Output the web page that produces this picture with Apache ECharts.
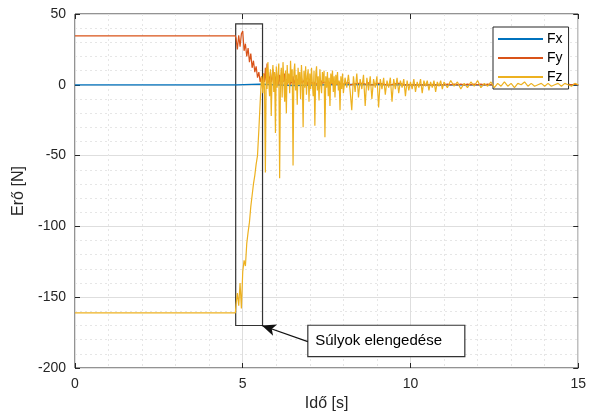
<!DOCTYPE html>
<html>
<head>
<meta charset="utf-8">
<script src="https://cdn.jsdelivr.net/npm/echarts@6/dist/echarts.min.js"></script>
<style>html,body{margin:0;padding:0;background:#fff;}#c{width:589px;height:419px;}</style>
</head>
<body>
<div id="c"></div>
<script>
// ---- data ----
const time = [
  0, 4.78,
  4.80,4.84,4.88,4.92,4.96,5.00,5.04,5.08,5.12,5.16,5.20,5.24,5.28,5.32,5.36,5.40,5.44,5.48,5.52,5.56,5.60,
  5.625,5.650,5.675,5.700,5.725,5.750,5.775,5.800,5.825,5.850,
  5.875,5.900,5.925,5.950,5.975,6.000,6.025,6.050,6.075,6.100,
  6.125,6.150,6.175,6.200,6.225,6.250,6.275,6.300,6.325,6.350,
  6.375,6.400,6.425,6.450,6.475,6.500,6.525,6.550,6.575,6.600,
  6.625,6.650,6.675,6.700,6.725,6.750,6.775,6.800,6.825,6.850,
  6.875,6.900,6.925,6.950,6.975,7.000,7.025,7.050,7.075,7.100,
  7.125,7.150,7.175,7.200,7.225,7.250,7.275,7.300,7.325,7.350,
  7.375,7.400,7.425,7.450,7.475,7.500,7.525,7.550,7.575,7.600,
  7.625,7.650,7.675,7.700,7.725,7.750,7.775,7.800,7.825,7.850,
  7.875,7.900,7.925,7.950,7.975,8.000,
  8.05,8.10,8.15,8.20,8.25,8.30,8.35,8.40,8.45,8.50,
  8.55,8.60,8.65,8.70,8.75,8.80,8.85,8.90,8.95,9.00,
  9.05,9.10,9.15,9.20,9.25,9.30,9.35,9.40,9.45,9.50,
  9.55,9.60,9.65,9.70,9.75,9.80,9.85,9.90,9.95,10.00,
  10.05,10.10,10.15,10.20,10.25,10.30,10.35,10.40,10.45,10.50,
  10.55,10.60,10.65,10.70,10.75,10.80,10.85,10.90,10.95,11.00,
  11.1,11.2,11.3,11.4,11.5,11.6,11.7,11.8,11.9,12.0,
  12.1,12.2,12.3,12.4,12.5,12.6,12.7,12.8,12.9,13.0,
  13.1,13.2,13.3,13.4,13.5,13.6,13.7,13.8,13.9,14.0,
  14.1,14.2,14.3,14.4,14.5,14.6,14.7,14.8,14.9,15.0
];
const fz = [
  -161, -161,
  -155,-147,-156,-140,-158,-132,-124,-128,-112,-104,-97,-86,-78,-70,-64,-56,-50,-32,-12,6,-6,
  8,-4,-62,12,-3,16,2,-8,11,-22,
  6,14,-5,9,-34,13,-2,7,15,-66,
  4,12,-9,16,3,-12,10,-20,14,1,
  8,-6,17,2,11,-57,9,15,-4,7,
  -14,12,0,9,-10,14,3,-30,10,-2,
  13,-7,6,11,-12,8,-3,12,1,-8,
  10,-29,7,13,-4,6,-11,11,0,-6,
  9,2,10,-37,6,-2,9,-8,5,-15,
  8,1,10,-5,6,-9,7,0,9,-4,
  3,-18,6,-3,8,-6,
  5,-2,7,-4,-18,6,-5,8,-9,4,
  -3,7,-15,5,-4,6,-10,4,-2,6,
  -16,4,-3,5,-7,3,-2,5,-12,4,
  -3,5,-6,3,-2,4,-8,3,-4,2,
  -3,4,-5,2,-2,4,-6,3,-1,3,
  -4,2,-2,3,-5,2,-1,3,-3,2,
  -2,3,-1,2,-3,1,-2,2,-1,3,
  -2,1,-1,2,-2,1,-1,2,-1,1,
  -2,1,0,2,-1,1,-1,0,1,-1,
  1,-1,0,1,-1,1,0,-1,1,0
];
const fy = [
  34.5, 34.5,
  33,25,35,27,36,38,24,29,20,26,16,22,12,17,9,13,5,9,2,6,0,
  8,2,12,3,15,1,6,0,9,2,
  4,11,1,6,0,8,3,5,0,7,
  2,6,0,5,2,8,1,4,0,6,
  2,5,0,4,1,6,0,3,2,5,
  0,4,1,3,0,5,1,2,0,4,
  1,3,0,2,1,4,0,2,1,3,
  0,2,1,3,0,2,1,2,0,3,
  1,2,0,2,1,3,0,1,2,0,
  1,2,0,1,2,0,1,2,0,1,
  2,0,1,2,0,1,
  1,0,1.5,0,1,0.5,0,1,0,1,
  0,1,0.5,0,1.5,0,1,0,0.5,1,
  0,1,0,0.5,1,0,1,0,1,0.5,
  0,1,0,1,0.5,0,1,0,0.5,0,
  1,0,0.5,0,1,0,0.5,0,1,0,
  0.5,0,1,0,0.5,0,0.5,0,1,0,
  0.5,0,0.5,0,0.5,0,0.5,0,0.5,0,
  0.5,0,0.5,0,0.5,0,0.5,0,0.5,0,
  0.5,0,0.5,0,0.5,0,0.5,0,0.5,0,
  0.5,0,0.5,0,0.5,0,0.5,0,0.5,0
];
const fxTime = [0, 4.8, 5.5, 6.5, 8, 10, 15];
const fx = [0, 0, 0.5, -0.5, 0.3, 0, 0];
const xTicks = [0, 5, 10, 15];
const yTicks = [-200, -150, -100, -50, 0, 50];
const highlightBox = { x0: 4.79, x1: 5.59, y0: 43, y1: -170 };
const noteBox = { x0: 6.94, x1: 11.62, y0: -169.8, y1: -192, text: 'Súlyok elengedése' };
const noteArrow = { from: [6.94, -181.4], to: [5.57, -170] };

const FONT = '"Liberation Sans", Arial, sans-serif';
const txt = '#262626';

const chart = echarts.init(document.getElementById('c'), null, { renderer: 'canvas' });
const xCommon = {
  type: 'value', min: xTicks[0], max: xTicks[xTicks.length - 1], interval: 5,
  axisLine: { show: false, onZero: false },
  axisTick: { show: true, inside: true, length: 5, lineStyle: { color: txt } },
  minorTick: { show: false, splitNumber: 5 }
};
const yCommon = {
  type: 'value', min: yTicks[0], max: yTicks[yTicks.length - 1], interval: 50,
  axisLine: { show: false, onZero: false },
  axisTick: { show: true, inside: true, length: 5, lineStyle: { color: txt } },
  minorTick: { show: false, splitNumber: 5 }
};
chart.setOption({
  animation: false,
  backgroundColor: '#fff',
  grid: { left: 75, right: 7, top: 14, bottom: 51, show: true, borderColor: '#262626', borderWidth: 1, backgroundColor: 'transparent' },
  legend: {
    orient: 'vertical', left: 493, top: 27,
    data: ['Fx', 'Fy', 'Fz'],
    icon: 'rect', itemWidth: 45, itemHeight: 2, itemGap: 5,
    padding: [5, 6, 5, 5],
    borderColor: '#262626', borderWidth: 1, backgroundColor: '#fff',
    textStyle: { fontFamily: FONT, fontSize: 14, color: '#000', padding: [0, 0, 0, -1] }
  },
  xAxis: [
    Object.assign({}, xCommon, {
      position: 'bottom',
      name: 'Idő [s]', nameLocation: 'middle', nameGap: 25,
      nameTextStyle: { fontFamily: FONT, fontSize: 16, color: txt },
      axisLabel: { fontFamily: FONT, fontSize: 14, color: txt, margin: 9 },
      splitLine: { show: true, lineStyle: { color: '#dedede', width: 1 } },
      minorTick: { show: false, splitNumber: 5 },
      minorSplitLine: { show: true, lineStyle: { color: '#e6e6e6', type: [2, 3], width: 1 } }
    }),
    Object.assign({}, xCommon, { position: 'top', axisLabel: { show: false }, splitLine: { show: false } })
  ],
  yAxis: [
    Object.assign({}, yCommon, {
      position: 'left',
      name: 'Erő [N]', nameLocation: 'middle', nameGap: 46,
      nameTextStyle: { fontFamily: FONT, fontSize: 16, color: txt },
      axisLabel: { fontFamily: FONT, fontSize: 14, color: txt, margin: 9 },
      splitLine: { show: true, lineStyle: { color: '#dedede', width: 1 } },
      minorSplitLine: { show: true, lineStyle: { color: '#e6e6e6', type: [2, 3], width: 1 } }
    }),
    Object.assign({}, yCommon, { position: 'right', axisLabel: { show: false }, splitLine: { show: false } })
  ],
  series: [
    {
      name: 'Fx', type: 'line', symbol: 'none', z: 2,
      lineStyle: { color: '#0072BD', width: 1.3 }, itemStyle: { color: '#0072BD' },
      data: fxTime.map((t, i) => [t, fx[i]])
    },
    {
      name: 'Fy', type: 'line', symbol: 'none', z: 3,
      lineStyle: { color: '#D95319', width: 1.2 }, itemStyle: { color: '#D95319' },
      data: time.map((t, i) => [t, fy[i]])
    },
    {
      name: 'Fz', type: 'line', symbol: 'none', z: 4,
      lineStyle: { color: '#EDB120', width: 1.2 }, itemStyle: { color: '#EDB120' },
      data: time.map((t, i) => [t, fz[i]])
    },
    {
      name: 'annot', type: 'line', data: [], z: 10, silent: true,
      markArea: {
        silent: true,
        data: [
          [
            { xAxis: highlightBox.x0, yAxis: highlightBox.y0, itemStyle: { color: 'rgba(0,0,0,0)', borderColor: '#333', borderWidth: 1.2 } },
            { xAxis: highlightBox.x1, yAxis: highlightBox.y1 }
          ],
          [
            { xAxis: noteBox.x0, yAxis: noteBox.y0, itemStyle: { color: '#fff', borderColor: '#333', borderWidth: 1.2 },
              label: { show: true, position: 'insideLeft', distance: 8, formatter: noteBox.text, fontFamily: FONT, fontSize: 15, color: '#000' } },
            { xAxis: noteBox.x1, yAxis: noteBox.y1 }
          ]
        ]
      },
      markLine: {
        silent: true, animation: false,
        symbol: ['none', 'arrow'], symbolSize: [9, 14],
        label: { show: false },
        lineStyle: { color: '#111', width: 1.2, type: 'solid' },
        data: [[{ coord: noteArrow.from }, { coord: noteArrow.to }]]
      }
    }
  ]
});
</script>
</body>
</html>
